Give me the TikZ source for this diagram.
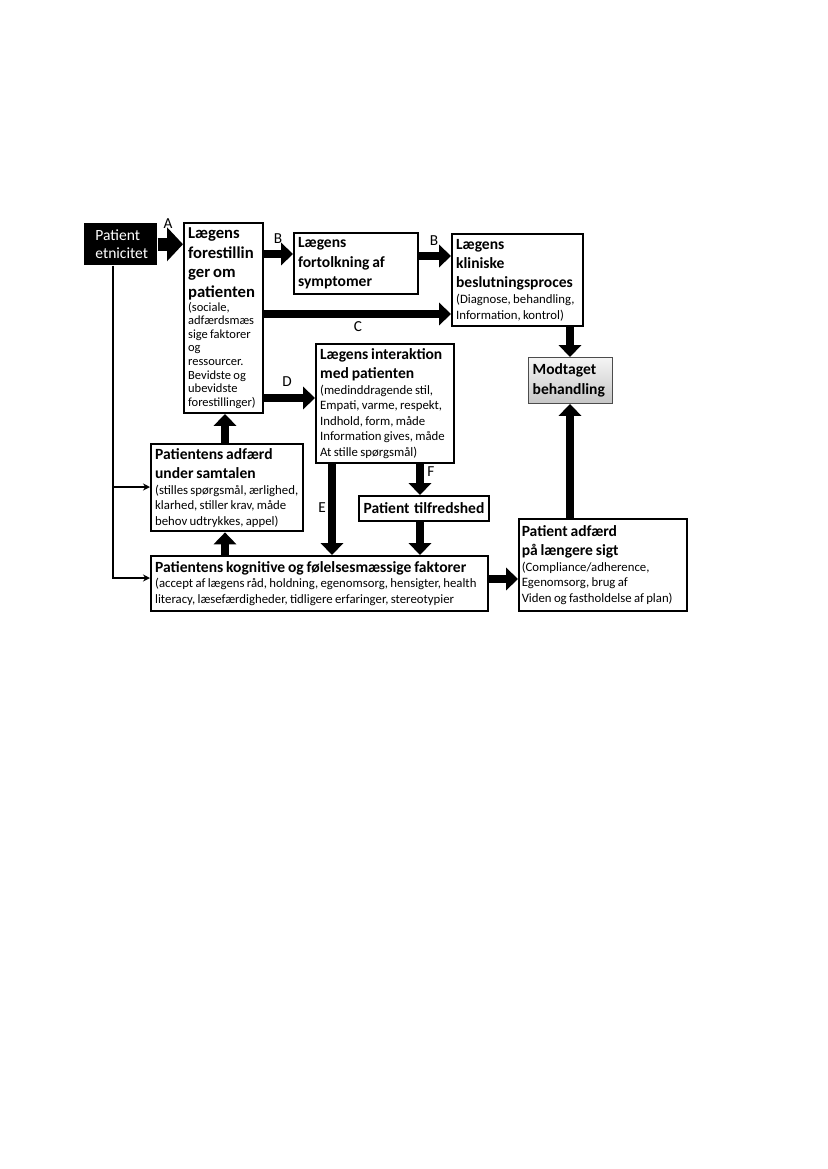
\documentclass[tikz,border=0pt]{standalone}
\usepackage{fontspec}
\setmainfont{Carlito}[WordSpace=0.8]
\usetikzlibrary{positioning,arrows.meta}
\newcommand{\boxhead}[1]{{\fontsize{11.2}{14}\selectfont\bfseries #1\par}}
\newcommand{\boxnote}[1]{{\fontsize{9.2}{11.2}\selectfont #1\par}}

\begin{document}
\begin{tikzpicture}[x=0.72pt,y=-0.72pt,
  box/.style={draw,line width=1.4pt,anchor=north west,align=flush left,inner xsep=3pt,inner ysep=3pt},
  fat/.style={line width=5.8pt,-{Triangle[length=8.6pt,width=16pt]}},
  fine/.style={line width=1pt,-{Stealth[length=5pt,width=5pt]}},
  lab/.style={font=\fontsize{11}{13}\selectfont}]
\useasboundingbox (0,0) rectangle (827,1169);

% boxes
\node[fill=black,text=white,anchor=north west,align=flush left,inner xsep=8pt,
  minimum width=52.6pt,minimum height=30.2pt,text width=36.6pt,
  font=\fontsize{11.2}{13.5}\selectfont] (eth) at (84,223) {Patient\\etnicitet};
\node[box,inner ysep=2pt,minimum width=56.9pt,minimum height=136.8pt,text width=50.9pt] (belief) at (183,222)
  {{\fontsize{12}{14.2}\selectfont\bfseries Lægens\\forestillin\\ger om\\patienten\par}%
   {\fontsize{9}{9.8}\selectfont (sociale,\\adfærdsmæs\\sige faktorer\\og\\ressourcer.\\Bevidste og\\ubevidste\\forestillinger)\par}};
\node[box,minimum width=89.3pt,minimum height=43.9pt,text width=83.3pt] (interp) at (293,232)
  {\boxhead{Lægens\\fortolkning af\\symptomer}};
\node[box,minimum width=94.3pt,minimum height=66.2pt,text width=88.3pt] (decision) at (451,233)
  {\boxhead{Lægens\\kliniske\\beslutningsproces}\boxnote{(Diagnose, behandling,\\Information, kontrol)}};
\node[box,draw=gray!60!black,line width=0.7pt,top color=gray!8,bottom color=gray!45,
  minimum width=60.5pt,minimum height=33.1pt,text width=54.5pt] (received) at (528,357)
  {\boxhead{Modtaget\\behandling}};
\node[box,minimum width=99.4pt,minimum height=85.7pt,text width=93.4pt] (interact) at (315,343)
  {\boxhead{Lægens interaktion\\med patienten}\boxnote{(medinddragende stil,\\Empati, varme, respekt,\\Indhold, form, måde\\Information gives, måde\\At stille spørgsmål)}};
\node[box,minimum width=109.4pt,minimum height=62.6pt,text width=103.4pt] (ptbehav) at (150,443)
  {\boxhead{Patientens adfærd\\under samtalen}\boxnote{(stilles spørgsmål, ærlighed,\\klarhed, stiller krav, måde\\behov udtrykkes, appel)}};
\node[box,minimum width=93.6pt,minimum height=18pt,text width=87.6pt,align=center] (satisf) at (358,495)
  {\boxhead{Patient tilfredshed}};
\node[box,minimum width=242.6pt,minimum height=39.6pt,text width=236.6pt] (cognit) at (150,555)
  {\boxhead{Patientens kognitive og følelsesmæssige faktorer}\boxnote{(accept af lægens råd, holdning, egenomsorg, hensigter, health\\literacy, læsefærdigheder, tidligere erfaringer, stereotypier}};
\node[box,inner xsep=2pt,minimum width=121pt,minimum height=66.2pt,text width=117pt] (longterm) at (518,518)
  {\boxhead{Patient adfærd\\på længere sigt}\boxnote{(Compliance/adherence,\\Egenomsorg, brug af\\Viden og fastholdelse af plan)}};

% levels of the arrows
\coordinate (rowB1) at (0,254);
\coordinate (rowB2) at (0,256);
\coordinate (rowC) at (0,314);
\coordinate (rowD) at (0,398);
\coordinate (rowL) at (0,579);
\coordinate (colM) at (570,0);
\coordinate (colP) at (225,0);
\coordinate (colE) at (332,0);
\coordinate (colF) at (420,0);
\coordinate (trunk) at (113,0);
\coordinate (fork1) at (113,487);
\coordinate (fork2) at (113,578);

% thick arrows
\draw[line width=9.4pt,-{Triangle[length=11.5pt,width=23.8pt]}] (eth.east) -- (belief.west |- eth.east);
\draw[fat] (belief.east |- rowB1) -- (interp.west |- rowB1);
\draw[fat] (interp.east |- rowB2) -- (decision.west |- rowB2);
\draw[fat] (belief.east |- rowC) -- (decision.west |- rowC);
\draw[fat] (belief.east |- rowD) -- (interact.west |- rowD);
\draw[fat] (decision.south -| colM) -- (received.north -| colM);
\draw[fat] (longterm.north -| colM) -- (received.south -| colM);
\draw[fat] (ptbehav.north -| colP) -- (belief.south -| colP);
\draw[fat] (cognit.north -| colP) -- (ptbehav.south -| colP);
\draw[fat] (interact.south -| colE) -- (cognit.north -| colE);
\draw[fat] (interact.south -| colF) -- (satisf.north -| colF);
\draw[fat] (satisf.south -| colF) -- (cognit.north -| colF);
\draw[fat] (cognit.east |- rowL) -- (longterm.west |- rowL);

% thin lines from the ethnicity box
\draw[fine] (eth.south -| trunk) -- (fork2) -- (cognit.west |- fork2);
\draw[fine] (fork1) -- (ptbehav.west |- fork1);

% arrow labels
\node[lab] (labA) at (168,224) {A};
\node[lab] (labB1) at (278,239) {B};
\node[lab] (labB2) at (434,241) {B};
\node[lab] (labC) at (358,327) {C};
\node[lab] (labD) at (287,382) {D};
\node[lab] (labE) at (322,508) {E};
\node[lab] (labF) at (431,472) {F};
\end{tikzpicture}
\end{document}
